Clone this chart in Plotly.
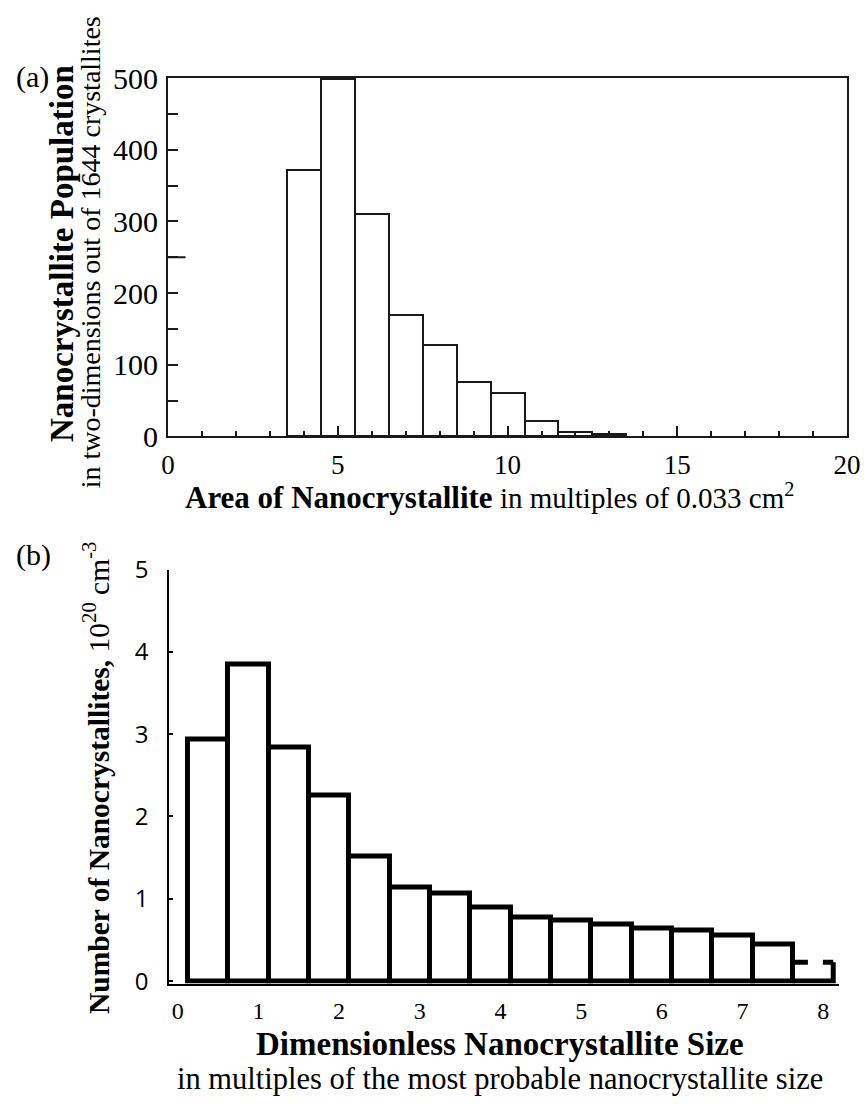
import plotly.graph_objects as go

# ---- Panel (a) data ----
area_bins = [4, 5, 6, 7, 8, 9, 10, 11, 12, 13]
population = [372, 498, 310, 170, 128, 76, 60, 21, 6, 3]
a_xticks = [0, 5, 10, 15, 20]
a_yticks = [0, 100, 200, 300, 400, 500]

# ---- Panel (b) data ----
size_centers = [0.375, 0.875, 1.375, 1.875, 2.375, 2.875, 3.375, 3.875,
                4.375, 4.875, 5.375, 5.875, 6.375, 6.875, 7.375, 7.875]
number_vals = [2.94, 3.85, 2.84, 2.25, 1.51, 1.14, 1.06, 0.89,
               0.77, 0.73, 0.69, 0.64, 0.61, 0.55, 0.45, 0.23]
b_xticks = [0, 1, 2, 3, 4, 5, 6, 7, 8]
b_yticks = [0, 1, 2, 3, 4, 5]
b_width = 0.5

W, H = 865, 1111
SERIF = "Liberation Serif"
SANS = "Open Sans"
INK = "#1a1a1a"

fig = go.Figure()

# Panel (a) histogram
fig.add_trace(go.Bar(
    x=area_bins, y=population, width=1.0,
    marker=dict(color="white", line=dict(color=INK, width=2)),
    xaxis="x", yaxis="y", showlegend=False, hoverinfo="x+y"))

# Panel (b) histogram (solid bars)
fig.add_trace(go.Bar(
    x=size_centers[:-1], y=number_vals[:-1], width=b_width,
    marker=dict(color="white", line=dict(color="black", width=5)),
    xaxis="x2", yaxis="y2", showlegend=False, hoverinfo="x+y"))

# last bar of panel (b): dashed top, solid sides
xc, hv = size_centers[-1], number_vals[-1]
x0, x1 = xc - b_width / 2, xc + b_width / 2
fig.add_trace(go.Scatter(
    x=[x0, x1, x1], y=[0, 0, hv], mode="lines",
    line=dict(color="black", width=5), xaxis="x2", yaxis="y2",
    showlegend=False, hoverinfo="skip"))
fig.add_trace(go.Scatter(
    x=[x0, x1], y=[hv, hv], mode="lines",
    line=dict(color="black", width=5, dash="dash"), xaxis="x2", yaxis="y2",
    showlegend=False, hoverinfo="skip"))

def px_x(p):
    return p / W

def px_y(p):
    return 1 - p / H

fig.update_layout(
    width=W, height=H,
    margin=dict(l=0, r=0, t=0, b=0),
    paper_bgcolor="white", plot_bgcolor="white",
    bargap=0,
    xaxis=dict(domain=[px_x(165), px_x(861)], range=[0, 20], anchor="y",
               tickvals=a_xticks, ticktext=[str(v) for v in a_xticks],
               ticks="inside", ticklen=10, tickwidth=2, tickcolor=INK,
               minor=dict(dtick=1, ticks="inside", ticklen=5, tickwidth=2, tickcolor=INK),
               showline=True, linecolor=INK, linewidth=2, mirror=True,
               showgrid=False, zeroline=False,
               tickfont=dict(family=SERIF, size=27, color="black"),
               ticklabeloverflow="allow",
               ticklabelstandoff=3),
    yaxis=dict(domain=[px_y(432), px_y(62)], range=[0, 500], anchor="x",
               tickvals=a_yticks, ticktext=[str(v) for v in a_yticks],
               ticks="inside", ticklen=10, tickwidth=2, tickcolor=INK,
               minor=dict(dtick=50, ticks="inside", ticklen=10, tickwidth=2, tickcolor=INK),
               showline=True, linecolor=INK, linewidth=2, mirror=True,
               showgrid=False, zeroline=False,
               tickfont=dict(family=SERIF, size=30, color="black"),
               ticklabelstandoff=2),
    xaxis2=dict(domain=[px_x(166), px_x(853)], range=[-0.109, 8.2], anchor="y2",
                tickvals=b_xticks, ticktext=[str(v) for v in b_xticks],
                ticks="", showline=True, linecolor="black", linewidth=1.5,
                showgrid=False, zeroline=False,
                tickfont=dict(family=SERIF, size=24, color="black"),
                ticklabelstandoff=5),
    yaxis2=dict(domain=[px_y(997), px_y(569.5)], range=[-0.03, 5], anchor="x2",
                tickvals=b_yticks, ticktext=[str(v) for v in b_yticks],
                ticks="inside", ticklen=4, tickwidth=1.5, tickcolor="black",
                showline=True, linecolor="black", linewidth=1.5,
                showgrid=False, zeroline=False,
                tickfont=dict(family=SANS, size=24, color="black"),
                ticklabelstandoff=14),
)

# longer tick at 250 on panel (a) y axis
fig.add_shape(type="line", xref="paper", yref="y",
              x0=px_x(165), x1=px_x(183), y0=250, y1=250,
              line=dict(color=INK, width=2))

ann = []
ann.append(dict(text="(a)", x=px_x(7), y=px_y(61), xanchor="left", yanchor="middle",
                font=dict(family=SERIF, size=30, color="black")))
ann.append(dict(text="(b)", x=px_x(7), y=px_y(554), xanchor="left", yanchor="middle",
                font=dict(family=SERIF, size=30, color="black")))
ann.append(dict(text="<b>Nanocrystallite Population</b>", x=px_x(57), y=px_y(243),
                textangle=-90, xanchor="center", yanchor="middle",
                font=dict(family=SERIF, size=33, color="black")))
ann.append(dict(text="in two-dimensions out of 1644 crystallites", x=px_x(85), y=px_y(242),
                textangle=-90, xanchor="center", yanchor="middle",
                font=dict(family=SERIF, size=28, color="black")))
ann.append(dict(text="<b><span style='font-size:31px'>Area of Nanocrystallite</span></b> in multiples of 0.033 cm<sup>2</sup>",
                x=px_x(180), y=px_y(494), xanchor="left", yanchor="middle",
                font=dict(family=SERIF, size=29, color="black")))
ann.append(dict(text="<b>Number of Nanocrystallites,</b> 10<sup>20</sup> cm<sup>-3</sup>",
                x=px_x(92), y=px_y(785), textangle=-90, xanchor="center", yanchor="middle",
                font=dict(family=SERIF, size=29.5, color="black")))
ann.append(dict(text="<b>Dimensionless Nanocrystallite Size</b>", x=px_x(505), y=px_y(1059),
                xanchor="center", yanchor="middle",
                font=dict(family=SERIF, size=33, color="black")))
ann.append(dict(text="in multiples of the most probable nanocrystallite size", x=px_x(505),
                y=px_y(1095), xanchor="center", yanchor="middle",
                font=dict(family=SERIF, size=30.5, color="black")))
for a in ann:
    a.update(xref="paper", yref="paper", showarrow=False)
fig.update_layout(annotations=ann)

fig.write_html("out.html")
